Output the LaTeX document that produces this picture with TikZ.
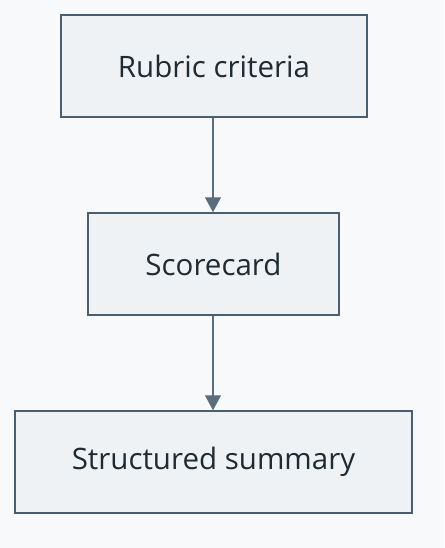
\documentclass[tikz,border=0pt]{standalone}
\usepackage{fontspec}
\setmainfont{Open Sans}
\usetikzlibrary{arrows.meta}
\definecolor{bgcol}{HTML}{F8F9FA}
\definecolor{boxfill}{HTML}{EEF2F5}
\definecolor{boxline}{HTML}{4B5E70}
\definecolor{arrowcol}{HTML}{5A6E80}
\definecolor{textcol}{HTML}{1F2A33}
\begin{document}
\begin{tikzpicture}[x=1pt,y=-1pt,
  stage/.style={draw=boxline, fill=boxfill, line width=1.5pt, minimum height=102pt,
    inner sep=0pt, text=textcol, font=\fontsize{29.5}{34}\selectfont},
  flow/.style={draw=arrowcol, line width=1.4pt, -{Triangle[length=15pt,width=16pt]}}]
\fill [bgcol] (0,0) rectangle (444,548);
\useasboundingbox (0,0) rectangle (444,548);
\node [stage, minimum width=306pt] (rubric) at (214,66) {Rubric criteria};
\node [stage, minimum width=251pt] (score) at (213.5,264) {Scorecard};
\node [stage, minimum width=397pt] (summary) at (213.5,462) {Structured summary};
\draw [flow] (rubric.south -| 213,0) -- (score.north -| 213,0);
\draw [flow] (score.south -| 213,0) -- (summary.north -| 213,0);
\end{tikzpicture}
\end{document}
